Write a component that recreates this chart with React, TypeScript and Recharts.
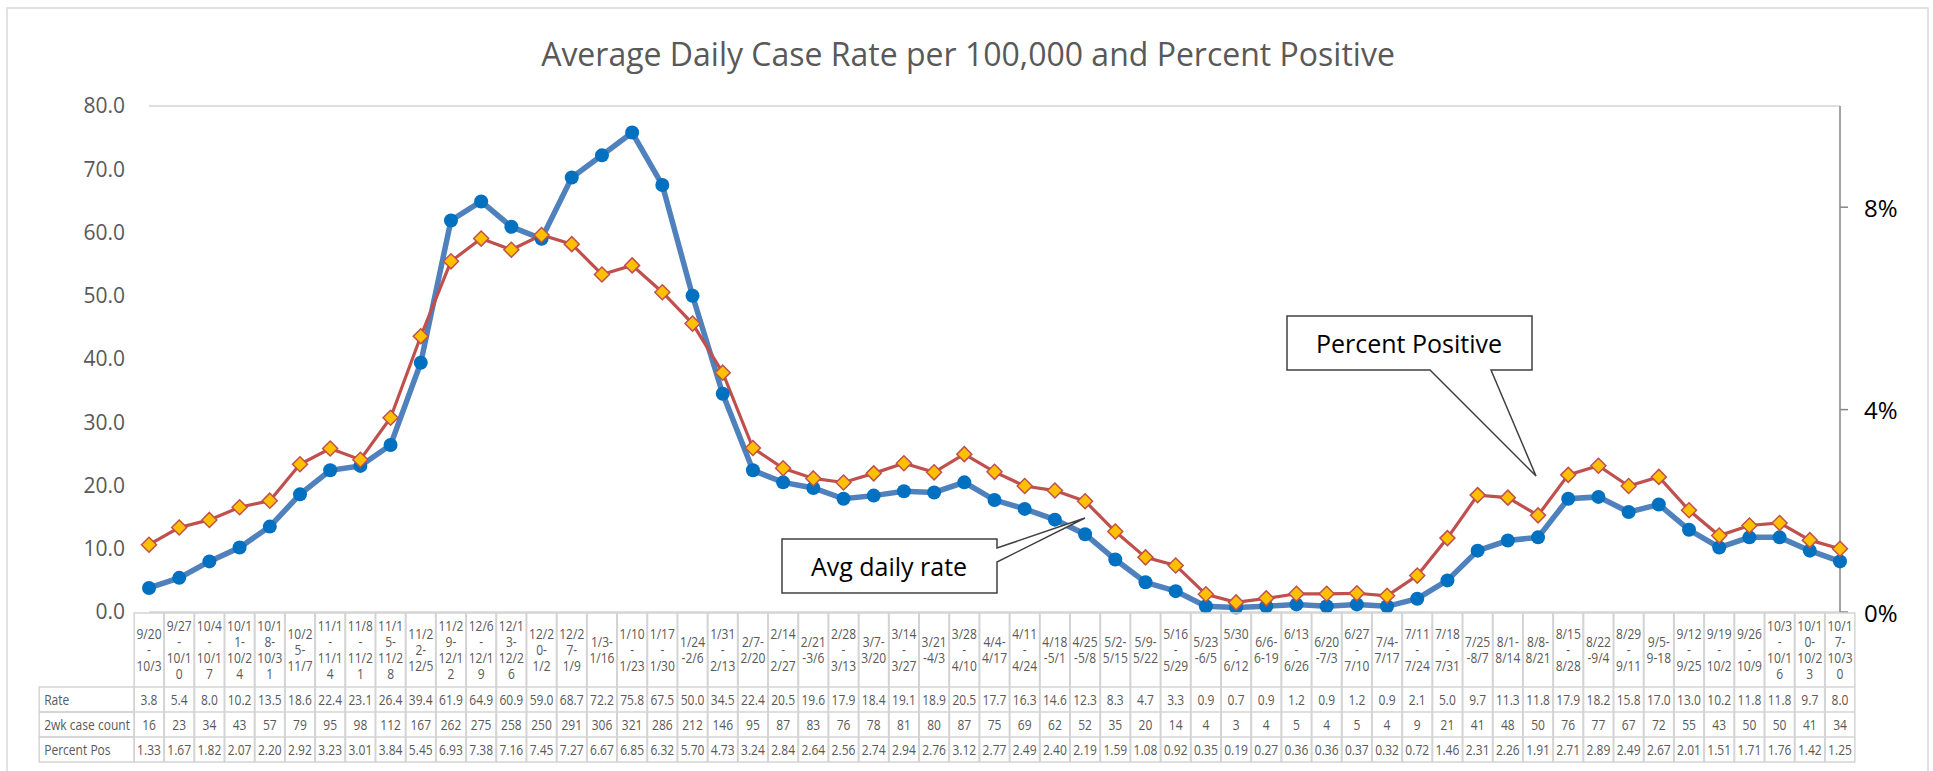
import React from "react";
import { LineChart, Line, XAxis, YAxis, CartesianGrid } from "recharts";

const categories: string[] = [
  "9/20\n-\n10/3", "9/27\n-\n10/1\n0", "10/4\n-\n10/1\n7", "10/1\n1-\n10/2\n4", "10/1\n8-\n10/3\n1",
  "10/2\n5-\n11/7", "11/1\n-\n11/1\n4", "11/8\n-\n11/2\n1", "11/1\n5-\n11/2\n8", "11/2\n2-\n12/5",
  "11/2\n9-\n12/1\n2", "12/6\n-\n12/1\n9", "12/1\n3-\n12/2\n6", "12/2\n0-\n1/2", "12/2\n7-\n1/9",
  "1/3-\n1/16", "1/10\n-\n1/23", "1/17\n-\n1/30", "1/24\n-2/6", "1/31\n-\n2/13",
  "2/7-\n2/20", "2/14\n-\n2/27", "2/21\n-3/6", "2/28\n-\n3/13", "3/7-\n3/20",
  "3/14\n-\n3/27", "3/21\n-4/3", "3/28\n-\n4/10", "4/4-\n4/17", "4/11\n-\n4/24",
  "4/18\n-5/1", "4/25\n-5/8", "5/2-\n5/15", "5/9-\n5/22", "5/16\n-\n5/29",
  "5/23\n-6/5", "5/30\n-\n6/12", "6/6-\n6-19", "6/13\n-\n6/26", "6/20\n-7/3",
  "6/27\n-\n7/10", "7/4-\n7/17", "7/11\n-\n7/24", "7/18\n-\n7/31", "7/25\n-8/7",
  "8/1-\n8/14", "8/8-\n8/21", "8/15\n-\n8/28", "8/22\n-9/4", "8/29\n-\n9/11",
  "9/5-\n9-18", "9/12\n-\n9/25", "9/19\n-\n10/2", "9/26\n-\n10/9", "10/3\n-\n10/1\n6",
  "10/1\n0-\n10/2\n3", "10/1\n7-\n10/3\n0",
];

const rate: number[] = [
  3.8, 5.4, 8.0, 10.2, 13.5, 18.6, 22.4, 23.1, 26.4, 39.4,
  61.9, 64.9, 60.9, 59.0, 68.7, 72.2, 75.8, 67.5, 50.0, 34.5,
  22.4, 20.5, 19.6, 17.9, 18.4, 19.1, 18.9, 20.5,
  17.7, 16.3, 14.6, 12.3, 8.3, 4.7, 3.3, 0.9, 0.7, 0.9, 1.2, 0.9, 1.2, 0.9, 2.1, 5.0,
  9.7, 11.3, 11.8, 17.9, 18.2, 15.8, 17.0, 13.0, 10.2, 11.8, 11.8, 9.7, 8.0,
];

const caseCount: number[] = [
  16, 23, 34, 43, 57, 79, 95, 98, 112, 167,
  262, 275, 258, 250, 291, 306, 321, 286, 212, 146,
  95, 87, 83, 76, 78, 81, 80, 87,
  75, 69, 62, 52, 35, 20, 14, 4, 3, 4, 5, 4, 5, 4, 9, 21,
  41, 48, 50, 76, 77, 67, 72, 55, 43, 50, 50, 41, 34,
];

const percentPos: number[] = [
  1.33, 1.67, 1.82, 2.07, 2.20, 2.92, 3.23, 3.01, 3.84, 5.45,
  6.93, 7.38, 7.16, 7.45, 7.27, 6.67, 6.85, 6.32, 5.70, 4.73,
  3.24, 2.84, 2.64, 2.56, 2.74, 2.94, 2.76, 3.12,
  2.77, 2.49, 2.40, 2.19, 1.59, 1.08, 0.92, 0.35, 0.19, 0.27, 0.36, 0.36, 0.37, 0.32, 0.72, 1.46,
  2.31, 2.26, 1.91, 2.71, 2.89, 2.49, 2.67, 2.01, 1.51, 1.71, 1.76, 1.42, 1.25,
];

const rowLabels: string[] = ["Rate", "2wk case count", "Percent Pos"];
const leftTicks: number[] = [0, 10, 20, 30, 40, 50, 60, 70, 80];
const rightTicks: number[] = [0, 4, 8];

const data = categories.map((c, i) => ({
  label: c,
  rate: rate[i],
  pct: percentPos[i],
}));

const W = 1933;
const H = 771;
const PLOT_LEFT = 149;
const PLOT_RIGHT = 1840;
const PLOT_TOP = 106;
const PLOT_BOTTOM = 612;
const XAXIS_H = 150;
const YAXIS_W = 60;
const CELL_W = (PLOT_RIGHT - PLOT_LEFT) / categories.length;
const HEADER_H = 74;
const ROW_H = 25;
const LABEL_COL_W = 95;
const LINE_H = 16;
const GRID = "#D4D4D4";
const TEXT = "#595959";
const FONT = "'Open Sans', sans-serif";
const SX = 0.86;
const RIGHT_LABEL_GAP = 24;

const fmtRate = (v: number) => v.toFixed(1);
const fmtPct = (v: number) => v.toFixed(2);

const NarrowText = ({ x, y, anchor, children }: any) => (
  <text
    transform={`translate(${x},${y}) scale(${SX},1)`}
    x={0}
    y={0}
    textAnchor={anchor}
    dominantBaseline="central"
    fontSize={14}
    fontFamily={FONT}
    fill={TEXT}
  >
    {children}
  </text>
);

const TableTick = (props: any) => {
  const { x, y, payload } = props;
  const i: number = payload.index;
  const top = y;
  const left = x - CELL_W / 2;
  const lines = String(categories[i]).split("\n");
  const n = lines.length;
  const headMid = top + HEADER_H / 2;
  const rowVals = [fmtRate(rate[i]), String(caseCount[i]), fmtPct(percentPos[i])];
  return (
    <g>
      <rect x={left} y={top} width={CELL_W} height={HEADER_H + 3 * ROW_H} fill="none" stroke={GRID} strokeWidth={1.5} />
      {lines.map((ln, k) => (
        <NarrowText key={k} x={x} y={headMid + (k - (n - 1) / 2) * LINE_H} anchor="middle">
          {ln}
        </NarrowText>
      ))}
      {rowVals.map((v, r) => (
        <g key={r}>
          <line x1={left} x2={left + CELL_W} y1={top + HEADER_H + r * ROW_H} y2={top + HEADER_H + r * ROW_H} stroke={GRID} strokeWidth={1.5} />
          <NarrowText x={x} y={top + HEADER_H + r * ROW_H + ROW_H / 2} anchor="middle">
            {v}
          </NarrowText>
        </g>
      ))}
      {i === 0 &&
        rowLabels.map((lab, r) => (
          <g key={"l" + r}>
            <rect
              x={left - LABEL_COL_W}
              y={top + HEADER_H + r * ROW_H}
              width={LABEL_COL_W}
              height={ROW_H}
              fill="none"
              stroke={GRID}
              strokeWidth={1.5}
            />
            <NarrowText x={left - LABEL_COL_W + 5} y={top + HEADER_H + r * ROW_H + ROW_H / 2} anchor="start">
              {lab}
            </NarrowText>
          </g>
        ))}
    </g>
  );
};

const RightTick = (props: any) => {
  const { y, payload } = props;
  return (
    <text
      x={PLOT_RIGHT + RIGHT_LABEL_GAP}
      y={y}
      textAnchor="start"
      dominantBaseline="central"
      fontSize={24}
      fontFamily={FONT}
      fill="#000"
    >
      {`${payload.value}%`}
    </text>
  );
};

const Diamond = (props: any) => {
  const { cx, cy } = props;
  if (cx == null || cy == null) return null;
  const s = 7.5;
  return (
    <path
      d={`M${cx},${cy - s} L${cx + s},${cy} L${cx},${cy + s} L${cx - s},${cy} Z`}
      fill="#FFC000"
      stroke="#C0504D"
      strokeWidth={1.5}
    />
  );
};

const Circle = (props: any) => {
  const { cx, cy } = props;
  if (cx == null || cy == null) return null;
  return <circle cx={cx} cy={cy} r={7} fill="#0070C0" />;
};

export default function App() {
  return (
    <div style={{ position: "absolute", left: 0, top: 0, width: W, height: H, background: "#fff", overflow: "hidden" }}>
      <LineChart
        width={W}
        height={H}
        data={data}
        margin={{
          top: PLOT_TOP,
          left: PLOT_LEFT - YAXIS_W,
          right: W - PLOT_RIGHT - YAXIS_W,
          bottom: H - PLOT_BOTTOM - XAXIS_H,
        }}
      >
        <CartesianGrid vertical={false} stroke={GRID} strokeWidth={1.5} />
        <XAxis
          dataKey="label"
          height={XAXIS_H}
          interval={0}
          axisLine={false}
          tickLine={false}
          tickSize={1}
          tickMargin={0}
          tick={<TableTick />}
        />
        <YAxis
          yAxisId="left"
          width={YAXIS_W}
          domain={[0, 80]}
          ticks={leftTicks}
          tickFormatter={(v: number) => v.toFixed(1)}
          axisLine={false}
          tickLine={false}
          tickSize={0}
          tickMargin={24}
          tick={{ fontSize: 21, fill: TEXT, fontFamily: FONT }}
        />
        <YAxis
          yAxisId="right"
          orientation="right"
          width={YAXIS_W}
          domain={[0, 10]}
          ticks={rightTicks}
          axisLine={{ stroke: "#868686", strokeWidth: 1.5 }}
          tickLine={{ stroke: "#868686", strokeWidth: 1.5 }}
          tickSize={8}
          tick={<RightTick />}
        />
        <Line
          yAxisId="left"
          type="linear"
          dataKey="rate"
          stroke="#4F81BD"
          strokeWidth={5.5}
          dot={<Circle />}
          activeDot={false}
          isAnimationActive={false}
        />
        <Line
          yAxisId="right"
          type="linear"
          dataKey="pct"
          stroke="#C0504D"
          strokeWidth={3.2}
          dot={<Diamond />}
          activeDot={false}
          isAnimationActive={false}
        />
      </LineChart>
      <svg width={W} height={H} style={{ position: "absolute", left: 0, top: 0, pointerEvents: "none" }}>
        <rect x={7} y={8} width={1921} height={820} fill="none" stroke="#D9D9D9" strokeWidth={1.5} />
        <text x={968} y={53} textAnchor="middle" dominantBaseline="central" fontSize={32} fontFamily={FONT} fill={TEXT}>
          Average Daily Case Rate per 100,000 and Percent Positive
        </text>
        <polygon
          points="782,539 997,539 997,548 1085,518 997,562 997,593 782,593"
          fill="#fff"
          stroke="#404040"
          strokeWidth={1.5}
        />
        <text x={889} y={566} textAnchor="middle" dominantBaseline="central" fontSize={25} fontFamily={FONT} fill="#000">
          Avg daily rate
        </text>
        <polygon
          points="1287,316 1532,316 1532,370 1491,370 1536,476 1430,370 1287,370"
          fill="#fff"
          stroke="#404040"
          strokeWidth={1.5}
        />
        <text x={1409} y={343} textAnchor="middle" dominantBaseline="central" fontSize={25} fontFamily={FONT} fill="#000">
          Percent Positive
        </text>
      </svg>
    </div>
  );
}
